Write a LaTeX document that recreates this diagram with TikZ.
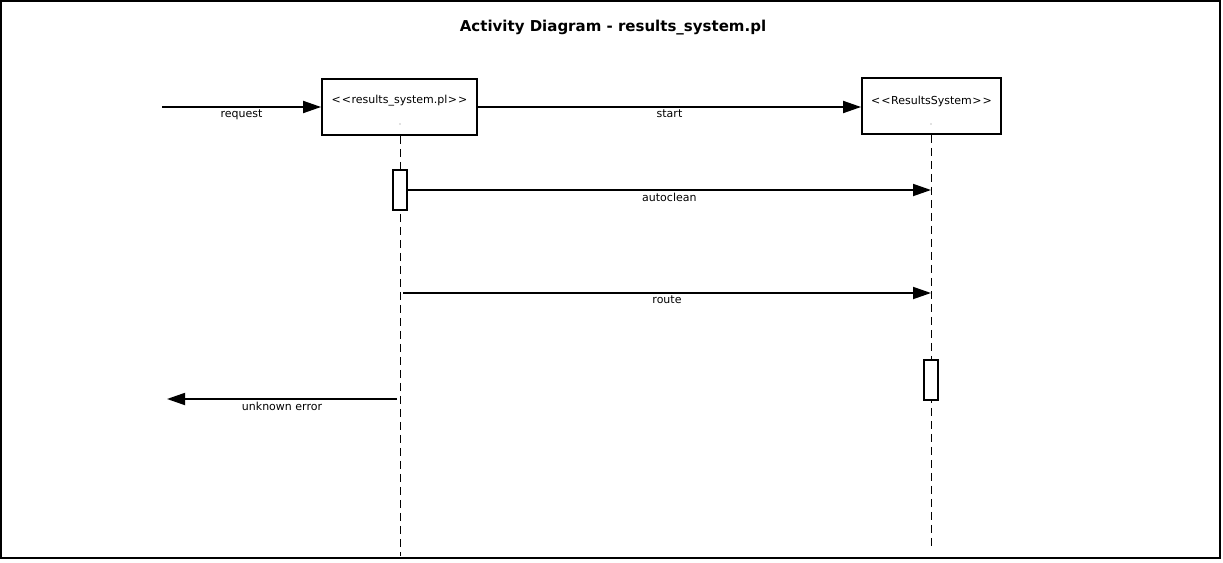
\documentclass[tikz,border=0pt]{standalone}
\usepackage{fontspec}
\setmainfont{DejaVu Sans}
\usetikzlibrary{arrows.meta}
\newcommand{\ltlt}{<\kern1pt<\kern0.5pt}
\newcommand{\gtgt}{\kern0.5pt>\kern1pt>}
\begin{document}
\begin{tikzpicture}[x=1pt,y=-1pt,
  objbox/.style={draw,line width=1.8pt,minimum width=#1,minimum height=56pt,inner sep=0pt},
  actbox/.style={draw,fill=white,line width=1.5pt,minimum width=14pt,minimum height=40pt,inner sep=0pt},
  lbl/.style={font=\fontsize{11}{13}\selectfont,inner sep=0pt},
  msg/.style={line width=1.8pt,-{Triangle[length=18pt,width=12pt]}},
  lifeline/.style={line width=1pt,dash pattern=on 8pt off 5pt},
  mlbl/.style={lbl,anchor=north,yshift=-2pt}]
\useasboundingbox (0,0) rectangle (1223,562);
\node[draw,line width=2pt,minimum width=1219pt,minimum height=557pt,inner sep=0pt] (frame) at (610.5,279.5) {};
\node[font=\bfseries\fontsize{15}{18}\selectfont] (title) at (613,28) {Activity Diagram - results\_system.pl};
% objects
\node[objbox=155pt] (obj1) at (399.5,107) {};
\node[lbl] (obj1l) at (399.5,101) {\ltlt results\_system.pl\gtgt};
\fill[gray] (400,124) circle (0.6pt);
\node[objbox=139pt] (obj2) at (931.5,106) {};
\node[lbl] (obj2l) at (931.5,101) {\ltlt ResultsSystem\gtgt};
\fill[gray] (931,124) circle (0.6pt);
% lifelines
\coordinate (l1end) at (400,556);
\coordinate (l2end) at (931,548);
\draw[lifeline] (obj1.south -| l1end) -- (l1end);
\draw[lifeline] (obj2.south -| l2end) -- (l2end);
% activations
\node[actbox] (act1) at (400,190) {};
\node[actbox] (act2) at (931,380) {};
% messages
\coordinate (reqstart) at (162,107);
\draw[msg] (reqstart) -- node[mlbl] {request} (reqstart -| obj1.west);
\draw[msg] (obj1.east |- reqstart) -- node[mlbl] {start} (reqstart -| obj2.west);
\coordinate (ac2) at (931,190);
\draw[msg] (act1.east |- ac2) -- node[mlbl] {autoclean} (ac2);
\coordinate (r1) at (403,293);
\coordinate (r2) at (931,293);
\draw[msg] (r1) -- node[mlbl] {route} (r2);
\coordinate (u1) at (397,399);
\coordinate (u2) at (167,399);
\draw[msg] (u1) -- node[mlbl] {unknown error} (u2);
\end{tikzpicture}
\end{document}
